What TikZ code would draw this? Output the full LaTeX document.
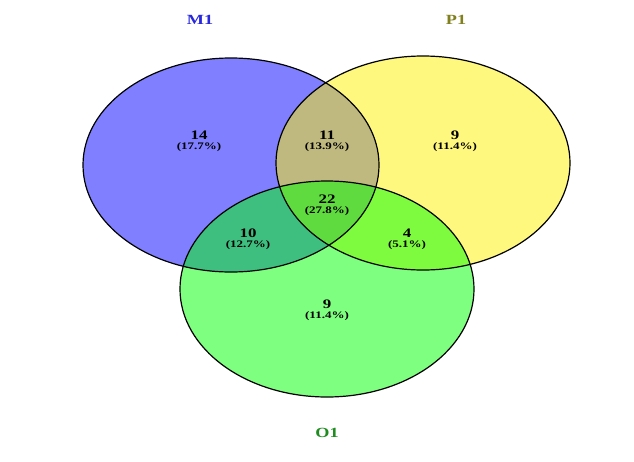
\documentclass[tikz,border=0pt]{standalone}
\usepackage{fontspec}
\setmainfont{Liberation Serif}
\newfontfamily\widefont[FakeStretch=1.3]{Liberation Serif}
\begin{document}
\begin{tikzpicture}[x=1pt,y=-1pt,
  setshape/.style={line width=1.2pt, fill opacity=0.5},
  num/.style={font=\widefont\bfseries\fontsize{13}{13}\selectfont, inner sep=0pt},
  pct/.style={font=\widefont\bfseries\fontsize{10}{10}\selectfont, inner sep=0pt},
  setlabel/.style={font=\widefont\bfseries\fontsize{14}{14}\selectfont, inner sep=0pt}]
\useasboundingbox (0,0) rectangle (634,461);
\fill[white] (0,0) rectangle (634,461);
% sets
\path[setshape, fill=blue] (231,165) ellipse [x radius=148, y radius=107];
\path[setshape, fill=yellow] (423,163) ellipse [x radius=147, y radius=107];
\path[setshape, fill={rgb,255:red,0;green,255;blue,0}] (327,289) ellipse [x radius=147, y radius=108];
% outlines on top
\draw[line width=1.2pt] (231,165) ellipse [x radius=148, y radius=107];
\draw[line width=1.2pt] (423,163) ellipse [x radius=147, y radius=107];
\draw[line width=1.2pt] (327,289) ellipse [x radius=147, y radius=108];
% set labels
\node[setlabel, text={rgb,255:red,40;green,40;blue,220}] (lm) at (200,20) {M1};
\node[setlabel, text={rgb,255:red,128;green,128;blue,30}] (lp) at (456,20) {P1};
\node[setlabel, text={rgb,255:red,30;green,140;blue,30}] (lo) at (327,433) {O1};
% region counts
\node[num] (n1) at (199,135) {14};
\node[pct] (p1) at (199,147) {(17.7\%)};
\node[num] (n2) at (327,135) {11};
\node[pct] (p2) at (327,147) {(13.9\%)};
\node[num] (n3) at (455,135) {9};
\node[pct] (p3) at (455,147) {(11.4\%)};
\node[num] (n4) at (327,199) {22};
\node[pct] (p4) at (327,211) {(27.8\%)};
\node[num] (n5) at (248,233) {10};
\node[pct] (p5) at (248,245) {(12.7\%)};
\node[num] (n6) at (407,233) {4};
\node[pct] (p6) at (407,245) {(5.1\%)};
\node[num] (n7) at (327,304) {9};
\node[pct] (p7) at (327,316) {(11.4\%)};
\end{tikzpicture}
\end{document}
